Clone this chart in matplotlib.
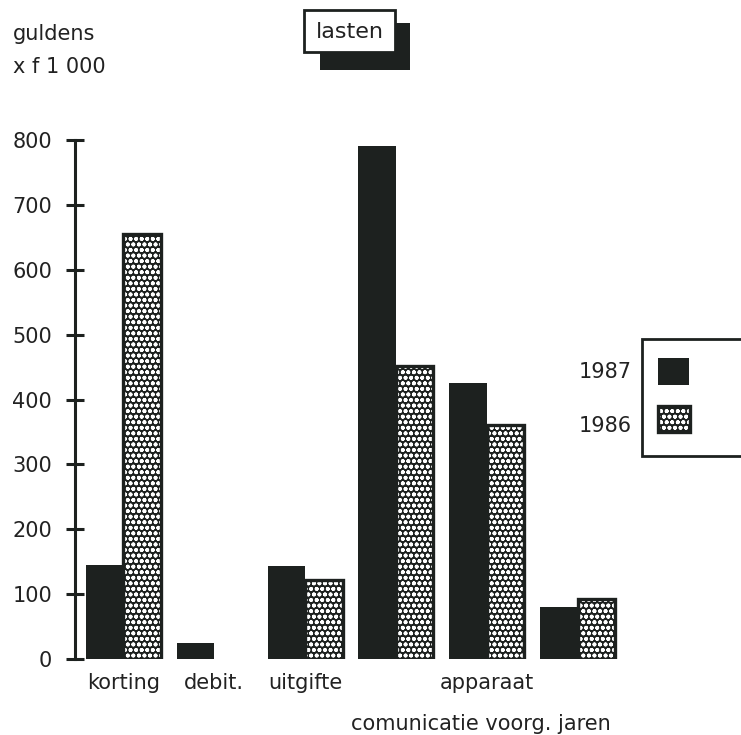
import numpy as np
import matplotlib
matplotlib.use("Agg")
import matplotlib.pyplot as plt
from matplotlib.patches import Rectangle

# ---- data ----
categories = ["korting", "debit.", "uitgifte", "comunicatie", "apparaat", "voorg. jaren"]
first_row_labels = ["korting", "debit.", "uitgifte", "", "apparaat", ""]
second_row_label = "comunicatie voorg. jaren"
values_1987 = [145, 25, 143, 790, 425, 80]
values_1986 = [655, 0, 122, 452, 360, 93]
series_names = ["1987", "1986"]
yticks = [0, 100, 200, 300, 400, 500, 600, 700, 800]
title = "lasten"
unit_lines = ["guldens", "x f 1 000"]

# ---- style ----
DARK = "#1d211f"
W, H = 741, 735
plt.rcParams["font.family"] = ["DejaVu Sans"]
plt.rcParams["hatch.linewidth"] = 1.2
FS = 15
HATCH = "ooo"

fig = plt.figure(figsize=(W / 100, H / 100), dpi=100)
fig.patch.set_facecolor("white")


def fx(x):
    return x / W


def fy(y):
    return 1 - y / H


ax = fig.add_axes([fx(75), fy(659), fx(630) - fx(75), fy(140) - fy(659)])
x = np.arange(len(categories))
w = 0.413

ax.bar(x - w, values_1987, width=w, align="edge", color=DARK, linewidth=0)
ax.bar(x, values_1986, width=w, align="edge", facecolor=DARK, edgecolor="white",
       hatch=HATCH, linewidth=0)
v86 = np.array(values_1986, dtype=float)
ax.bar(x, np.where(v86 > 0, v86, np.nan), width=w, align="edge", fill=False,
       edgecolor=DARK, linewidth=2.4)

ax.set_ylim(0, 800)
ax.set_xlim(-0.534, 5.578)
for s in ["top", "right", "bottom"]:
    ax.spines[s].set_visible(False)
ax.spines["left"].set_linewidth(2.2)
ax.spines["left"].set_color(DARK)
ax.set_yticks(yticks)
ax.set_yticklabels([str(t) for t in yticks], fontsize=FS, color="#222")
ax.tick_params(axis="y", direction="inout", length=13, width=2.2, color=DARK, pad=10)
ax.set_xticks(x)
ax.set_xticklabels(first_row_labels, fontsize=FS, color="#222")
ax.tick_params(axis="x", length=0, pad=10)

fig.text(fx(481), fy(730), second_row_label, ha="center", va="baseline",
         fontsize=FS, color="#222")

# unit label
fig.text(fx(13), fy(40), unit_lines[0], ha="left", va="baseline", fontsize=FS, color="#222")
fig.text(fx(13), fy(73), unit_lines[1], ha="left", va="baseline", fontsize=FS, color="#222")


def prect(x0, y0, x1, y1, **kw):
    r = Rectangle((fx(x0), fy(y1)), fx(x1) - fx(x0), fy(y0) - fy(y1),
                  transform=fig.transFigure, **kw)
    fig.add_artist(r)
    return r


# title box with shadow
prect(320, 23, 410, 70, facecolor=DARK, linewidth=0)
prect(304, 10, 395, 52, facecolor="white", edgecolor=DARK, linewidth=2.0)
fig.text(fx(349.5), fy(38), title, ha="center", va="baseline", fontsize=16, color="#222")

# legend
prect(642, 339, 748, 456, facecolor="white", edgecolor=DARK, linewidth=2.0)
prect(658, 358, 689, 385, facecolor=DARK, linewidth=0)
prect(658, 406, 690, 432, facecolor=DARK, edgecolor="white", hatch=HATCH, linewidth=0)
prect(658, 406, 690, 432, fill=False, edgecolor=DARK, linewidth=2.4)
fig.text(fx(632), fy(378), series_names[0], ha="right", va="baseline", fontsize=FS, color="#222")
fig.text(fx(632), fy(432), series_names[1], ha="right", va="baseline", fontsize=FS, color="#222")

fig.savefig("out.png", dpi=100, facecolor="white")
